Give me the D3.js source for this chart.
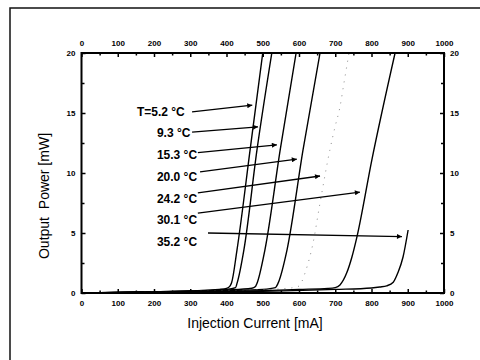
<!DOCTYPE html>
<html>
<head>
<meta charset="utf-8">
<script src="https://cdn.jsdelivr.net/npm/d3@7"></script>
<style>
  body { margin: 0; background: #fff; }
  svg { display: block; font-family: "Liberation Sans", Arial, sans-serif; }
</style>
</head>
<body>
<div id="chart"></div>
<script>
// Output power vs injection current, one curve per temperature
const temps = ['T=5.2 °C', '9.3 °C', '15.3 °C', '20.0 °C', '24.2 °C', '30.1 °C', '35.2 °C'];

const curve52 = [[0,0],[100,0.05],[200,0.1],[300,0.18],[380,0.3],[400,0.38],[410,0.6],[414,0.85],[429,3.6],[465,11.9],[500,20]];
const curve93 = [[0,0],[100,0.05],[200,0.1],[300,0.17],[400,0.3],[425,0.45],[429,0.8],[448,3.6],[484,11.9],[525,20]];
const curve153 = [[0,0],[200,0.1],[300,0.15],[400,0.25],[470,0.4],[480,0.55],[484,0.8],[506,3.6],[548,11.9],[592,20]];
const curve200 = [[0,0],[200,0.08],[300,0.13],[400,0.2],[500,0.3],[535,0.45],[542,0.8],[567,3.6],[611,11.9],[658,20]];
const curve242 = [[0,0],[300,0.12],[450,0.22],[550,0.35],[595,0.5],[607,0.9],[617,1.7],[639,4.2],[658,7.5],[685,11.9],[699,13.8],[713,15.5],[724,17.5],[738,20]];
const curve301 = [[0,0],[300,0.1],[500,0.2],[600,0.3],[680,0.38],[700,0.45],[713,0.67],[732,1.7],[746,3.0],[760,4.7],[801,11.1],[865,20]];
const curve352 = [[0,0],[300,0.08],[500,0.15],[700,0.3],[800,0.42],[823,0.5],[842,0.6],[860,0.9],[873,1.7],[887,3.0],[901,5.25]];
const curves = [curve52, curve93, curve153, curve200, curve242, curve301, curve352];

// label anchor (mA, mW) and arrow from -> to, in data units
const labelAt = [[153,15.1],[208,13.35],[208,11.5],[208,9.7],[208,7.9],[208,6.1],[208,4.25]];
const arrowFrom = [[305,15.1],[305,13.4],[321,11.7],[327,10.1],[321,8.35],[321,6.65],[349,5.0]];
const arrowTo = [[471,15.65],[487,13.85],[539,12.35],[594,11.15],[658,9.75],[768,8.4],[884,4.7]];

const xMajor = [0,100,200,300,400,500,600,700,800,900,1000];
const xMinor = [50,150,250,350,450,550,650,750,850,950];
const yMajor = [0,5,10,15,20];
const yMinor = [2.5,7.5,12.5,17.5];

const W = 480, H = 360;
const svg = d3.select('#chart').append('svg').attr('width', W).attr('height', H);

// outer frame (only top & left fall inside the picture)
svg.append('rect')
    .attr('x', 10).attr('y', 8).attr('width', 480).attr('height', 370)
    .attr('fill', 'none').attr('stroke', '#111').attr('stroke-width', 1.5);

const L = 81.5, R = 444, T = 53, B = 293;
const x = d3.scaleLinear().domain([0, 1000]).range([L, R]);
const y = d3.scaleLinear().domain([0, 20]).range([B, T]);

const tickStyle = g => {
    g.select('.domain').remove();
    g.selectAll('line').attr('stroke', '#000').attr('stroke-width', 1.5);
    g.selectAll('text').attr('fill', '#000').style('font-size', '8px').style('font-weight', 'bold');
};

// minor ticks first, then major with labels
svg.append('g').attr('transform', `translate(0,${B})`)
    .call(d3.axisBottom(x).tickValues(xMinor).tickSize(-2.5).tickFormat(''))
    .call(tickStyle);
svg.append('g').attr('transform', `translate(0,${B})`)
    .call(d3.axisBottom(x).tickValues(xMajor).tickSize(-4).tickPadding(7).tickFormat(d3.format('d')))
    .call(tickStyle);
svg.append('g').attr('transform', `translate(0,${T})`)
    .call(d3.axisTop(x).tickValues(xMinor).tickSize(-2.5).tickFormat(''))
    .call(tickStyle);
svg.append('g').attr('transform', `translate(0,${T})`)
    .call(d3.axisTop(x).tickValues(xMajor).tickSize(-4).tickPadding(7).tickFormat(d3.format('d')))
    .call(tickStyle);

svg.append('g').attr('transform', `translate(${L},0)`)
    .call(d3.axisLeft(y).tickValues(yMinor).tickSize(-3).tickFormat(''))
    .call(tickStyle);
svg.append('g').attr('transform', `translate(${L},0)`)
    .call(d3.axisLeft(y).tickValues(yMajor).tickSize(-4).tickPadding(6))
    .call(tickStyle);
svg.append('g').attr('transform', `translate(${R},0)`)
    .call(d3.axisRight(y).tickValues(yMinor).tickSize(-3).tickFormat(''))
    .call(tickStyle);
svg.append('g').attr('transform', `translate(${R},0)`)
    .call(d3.axisRight(y).tickValues(yMajor).tickSize(-4).tickPadding(6))
    .call(tickStyle);

// curves
svg.append('clipPath').attr('id', 'plot-clip')
    .append('rect').attr('x', L).attr('y', T).attr('width', R - L).attr('height', B - T);

const line = d3.line()
    .x(d => x(d[0]))
    .y(d => y(d[1]))
    .curve(d3.curveMonotoneX);

svg.append('g').attr('clip-path', 'url(#plot-clip)')
    .selectAll('path')
    .data(curves)
    .enter().append('path')
    .attr('fill', 'none')
    .attr('stroke', (d, i) => i === 4 ? '#888' : '#000')
    .attr('stroke-width', (d, i) => i === 4 ? 1 : 1.4)
    .attr('stroke-dasharray', (d, i) => i === 4 ? '1,6' : null)
    .attr('d', line);

// plot frame
svg.append('rect')
    .attr('x', L).attr('y', T).attr('width', R - L).attr('height', B - T)
    .attr('fill', 'none').attr('stroke', '#000').attr('stroke-width', 2);

// arrows
svg.append('defs').append('marker')
    .attr('id', 'arrow')
    .attr('viewBox', '0 0 10 10')
    .attr('refX', 10).attr('refY', 5)
    .attr('markerWidth', 9).attr('markerHeight', 5)
    .attr('markerUnits', 'userSpaceOnUse')
    .attr('orient', 'auto')
    .append('path').attr('d', 'M0,0L10,5L0,10Z').attr('fill', '#000');

svg.append('g').selectAll('line')
    .data(arrowFrom)
    .enter().append('line')
    .attr('x1', d => x(d[0])).attr('y1', d => y(d[1]))
    .attr('x2', (d, i) => x(arrowTo[i][0])).attr('y2', (d, i) => y(arrowTo[i][1]))
    .attr('stroke', '#000').attr('stroke-width', 1.3)
    .attr('marker-end', 'url(#arrow)');

svg.append('g').selectAll('text')
    .data(temps)
    .enter().append('text')
    .attr('x', (d, i) => x(labelAt[i][0]))
    .attr('y', (d, i) => y(labelAt[i][1]))
    .attr('dy', '0.36em')
    .style('font-size', '12px')
    .style('font-weight', 'bold')
    .text(d => d);

// axis titles
svg.append('text')
    .attr('x', 255).attr('y', 328)
    .attr('text-anchor', 'middle')
    .style('font-size', '14px')
    .text('Injection Current [mA]');

svg.append('text')
    .attr('transform', 'translate(49,196) rotate(-90)')
    .attr('text-anchor', 'middle')
    .style('font-size', '14px')
    .style('white-space', 'pre')
    .text('Output  Power [mW]');
</script>
</body>
</html>
